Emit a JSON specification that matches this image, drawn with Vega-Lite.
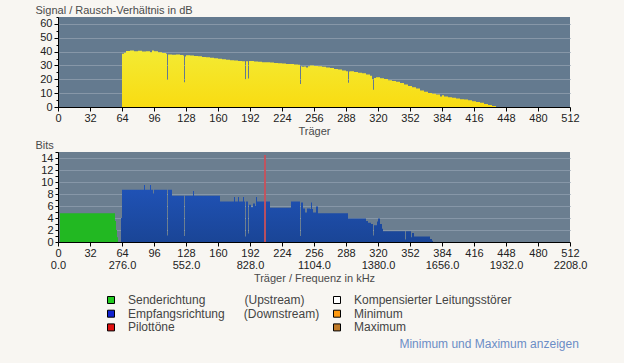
{
  "$schema": "https://vega.github.io/schema/vega-lite/v6.json",
  "background": "#F8F6F2",
  "padding": {"left": 35, "top": 4, "right": 40, "bottom": 16},
  "config": {
    "font": "Liberation Sans",
    "view": {"stroke": null},
    "axis": {
      "labelFont": "Liberation Sans", "labelFontSize": 11, "labelColor": "#222222",
      "titleFont": "Liberation Sans", "titleFontSize": 11, "titleFontWeight": "normal", "titleColor": "#4a4a4a",
      "domainColor": "#000000", "tickColor": "#000000", "gridColor": "#8797A8", "gridWidth": 1,
      "labelOverlap": false, "labelFlush": false
    }
  },
  "title": {"text": "Minimum und Maximum anzeigen", "orient": "bottom", "anchor": "end", "color": "#6B8DC6", "fontSize": 12, "font": "Liberation Sans", "fontWeight": "normal", "offset": 5, "dx": -8},
  "datasets": {
    "snr": [
      {"t":64,"snr":38.5},{"t":66,"snr":39.2},{"t":68,"snr":40.5},{"t":72,"snr":40.8},{"t":76,"snr":40.3},{"t":80,"snr":40.6},{"t":84,"snr":40.0},{"t":88,"snr":40.2},{"t":92,"snr":39.6},{"t":94,"snr":40.8},{"t":96,"snr":40.2},{"t":100,"snr":39.5},{"t":104,"snr":39.0},{"t":108,"snr":38.4},{"t":109,"snr":19.5},{"t":110,"snr":38.0},{"t":114,"snr":37.8},{"t":118,"snr":37.9},{"t":122,"snr":37.6},{"t":125,"snr":37.2},{"t":126,"snr":17.8},{"t":127,"snr":36.5},{"t":128,"snr":37.4},{"t":132,"snr":37.2},{"t":136,"snr":36.9},{"t":140,"snr":36.6},{"t":144,"snr":36.2},{"t":148,"snr":35.9},{"t":152,"snr":35.6},{"t":156,"snr":35.2},{"t":160,"snr":34.9},{"t":164,"snr":34.5},{"t":168,"snr":34.2},{"t":172,"snr":33.8},{"t":176,"snr":33.6},{"t":180,"snr":33.3},{"t":184,"snr":33.1},{"t":187,"snr":20.0},{"t":188,"snr":33.0},{"t":190,"snr":20.5},{"t":191,"snr":33.2},{"t":196,"snr":32.8},{"t":200,"snr":32.6},{"t":204,"snr":32.4},{"t":208,"snr":32.3},{"t":212,"snr":32.1},{"t":216,"snr":31.8},{"t":220,"snr":31.6},{"t":224,"snr":31.4},{"t":228,"snr":31.1},{"t":232,"snr":31.0},{"t":236,"snr":30.7},{"t":240,"snr":30.6},{"t":242,"snr":16.6},{"t":243,"snr":29.5},{"t":244,"snr":29.0},{"t":246,"snr":29.2},{"t":248,"snr":28.5},{"t":250,"snr":29.5},{"t":252,"snr":30.0},{"t":256,"snr":29.6},{"t":260,"snr":29.4},{"t":264,"snr":29.0},{"t":268,"snr":28.6},{"t":272,"snr":28.2},{"t":276,"snr":27.5},{"t":280,"snr":27.0},{"t":284,"snr":26.4},{"t":288,"snr":25.8},{"t":290,"snr":17.5},{"t":291,"snr":25.6},{"t":292,"snr":25.8},{"t":296,"snr":25.3},{"t":300,"snr":24.8},{"t":304,"snr":24.3},{"t":308,"snr":23.5},{"t":312,"snr":22.6},{"t":314,"snr":20.0},{"t":315,"snr":12.5},{"t":316,"snr":21.0},{"t":318,"snr":21.5},{"t":322,"snr":20.8},{"t":326,"snr":20.2},{"t":330,"snr":19.4},{"t":334,"snr":18.8},{"t":338,"snr":18.2},{"t":342,"snr":17.4},{"t":346,"snr":16.3},{"t":350,"snr":15.2},{"t":354,"snr":14.2},{"t":358,"snr":13.4},{"t":362,"snr":12.0},{"t":366,"snr":11.0},{"t":370,"snr":10.2},{"t":374,"snr":9.6},{"t":378,"snr":9.0},{"t":382,"snr":7.6},{"t":384,"snr":8.4},{"t":386,"snr":7.5},{"t":390,"snr":7.0},{"t":394,"snr":6.6},{"t":398,"snr":6.2},{"t":402,"snr":5.6},{"t":406,"snr":5.4},{"t":410,"snr":4.8},{"t":414,"snr":4.2},{"t":418,"snr":3.6},{"t":422,"snr":3.0},{"t":426,"snr":2.2},{"t":430,"snr":1.5},{"t":434,"snr":0.8},{"t":438,"snr":0}
    ],
    "up": [
      {"t":2,"bits":4.8},{"t":57,"bits":3.5},{"t":58,"bits":2.0},{"t":59,"bits":0.8},{"t":60,"bits":0}
    ],
    "down": [
      {"t":63,"bits":4.0},{"t":64,"bits":8.7},{"t":86,"bits":9.5},{"t":87,"bits":8.7},{"t":92,"bits":9.5},{"t":93,"bits":8.7},{"t":95,"bits":8.1},{"t":96,"bits":8.7},{"t":109,"bits":1.1},{"t":110,"bits":8.7},{"t":114,"bits":7.7},{"t":126,"bits":1.0},{"t":127,"bits":7.7},{"t":135,"bits":8.5},{"t":136,"bits":7.7},{"t":162,"bits":6.75},{"t":176,"bits":7.5},{"t":177,"bits":6.75},{"t":180,"bits":7.5},{"t":181,"bits":6.75},{"t":185,"bits":7.5},{"t":186,"bits":6.75},{"t":187,"bits":0.9},{"t":188,"bits":6.75},{"t":190,"bits":1.4},{"t":191,"bits":6.2},{"t":193,"bits":5.8},{"t":195,"bits":6.4},{"t":197,"bits":6.0},{"t":198,"bits":7.5},{"t":199,"bits":6.75},{"t":212,"bits":5.7},{"t":233,"bits":6.75},{"t":242,"bits":1.0},{"t":243,"bits":6.6},{"t":245,"bits":5.6},{"t":247,"bits":4.9},{"t":249,"bits":5.6},{"t":252,"bits":5.5},{"t":253,"bits":6.6},{"t":254,"bits":5.5},{"t":255,"bits":4.9},{"t":258,"bits":5.9},{"t":260,"bits":4.8},{"t":290,"bits":3.9},{"t":308,"bits":3.5},{"t":310,"bits":3.2},{"t":313,"bits":3.0},{"t":315,"bits":1.1},{"t":316,"bits":2.8},{"t":319,"bits":3.4},{"t":320,"bits":3.9},{"t":322,"bits":3.0},{"t":324,"bits":2.2},{"t":325,"bits":1.8},{"t":347,"bits":0.4},{"t":348,"bits":1.8},{"t":353,"bits":0.8},{"t":354,"bits":1.5},{"t":356,"bits":0.93},{"t":372,"bits":0.5},{"t":374,"bits":0.2},{"t":375,"bits":0}
    ],
    "pilot": [{"t":207,"bits":14.5}],
    "legend": [
      {"name":"Senderichtung"},{"name":"Empfangsrichtung"},{"name":"Pilottöne"},{"name":"Kompensierter Leitungsstörer"},{"name":"Minimum"},{"name":"Maximum"}
    ]
  },
  "spacing": 45,
  "bounds": "flush",
  "vconcat": [
    {
      "width": 512, "height": 90,
      "view": {"fill": "#647A8F", "stroke": null},
      "data": {"name": "snr"},
      "mark": {"type": "area", "interpolate": "step-after",
        "color": {"gradient": "linear", "x1": 0, "y1": 0, "x2": 0, "y2": 1, "stops": [{"offset": 0, "color": "#F3EA33"}, {"offset": 1, "color": "#F9DC12"}]}},
      "encoding": {
        "x": {"field": "t", "type": "quantitative", "scale": {"domain": [0, 512], "nice": false},
          "axis": {"values": [0,32,64,96,128,160,192,224,256,288,320,352,384,416,448,480,512], "title": "Träger", "grid": false, "tickSize": 4, "labelPadding": 1, "titlePadding": 2}},
        "y": {"field": "snr", "type": "quantitative", "scale": {"domain": [0, 65], "nice": false},
          "axis": {"values": [0,5,10,15,20,25,30,35,40,45,50,55,60,65],
            "labelExpr": "datum.value % 10 == 0 ? datum.label : ''",
            "title": "Signal / Rausch-Verhältnis in dB", "titleAngle": 0, "titleAlign": "left", "titleBaseline": "alphabetic", "titleX": -23, "titleY": -4,
            "grid": true, "gridOpacity": {"condition": {"test": "datum.value % 10 == 0 && datum.value > 0", "value": 1}, "value": 0},
            "tickSize": {"condition": {"test": "datum.value % 10 == 0", "value": 4}, "value": 2}, "labelPadding": 2}}
      }
    },
    {
      "width": 512, "height": 90,
      "view": {"fill": "#6B7E90", "stroke": null},
      "encoding": {
        "x": {"field": "t", "type": "quantitative", "scale": {"domain": [0, 512], "nice": false},
          "axis": {"values": [0,32,64,96,128,160,192,224,256,288,320,352,384,416,448,480,512], "title": "Träger / Frequenz in kHz", "grid": false, "tickSize": 4, "labelPadding": 1, "titlePadding": 2, "labelLineHeight": 12,
            "labelExpr": "datum.value % 64 == 0 ? [datum.label, format(datum.value * 4.3125, '.1f')] : [datum.label, '']"}},
        "y": {"type": "quantitative", "scale": {"domain": [0, 15], "nice": false},
          "axis": {"values": [0,1,2,3,4,5,6,7,8,9,10,11,12,13,14,15],
            "labelExpr": "datum.value % 2 == 0 ? datum.label : ''",
            "title": "Bits", "titleAngle": 0, "titleAlign": "left", "titleBaseline": "alphabetic", "titleX": -23, "titleY": -4,
            "grid": true, "gridOpacity": {"condition": {"test": "datum.value % 2 == 0 && datum.value > 0", "value": 1}, "value": 0},
            "tickSize": 3, "labelPadding": 2}}
      },
      "layer": [
        {"data": {"name": "up"}, "mark": {"type": "area", "interpolate": "step-after", "color": "#22B822"},
         "encoding": {"y": {"field": "bits", "type": "quantitative"}}},
        {"data": {"name": "down"}, "mark": {"type": "area", "interpolate": "step-after",
           "color": {"gradient": "linear", "x1": 0, "y1": 0, "x2": 0, "y2": 1, "stops": [{"offset": 0, "color": "#2053B8"}, {"offset": 1, "color": "#1A4596"}]}},
         "encoding": {"y": {"field": "bits", "type": "quantitative"}}},
        {"data": {"name": "pilot"}, "mark": {"type": "rule", "color": "#C9505A", "strokeWidth": 2, "opacity": 0.9},
         "encoding": {"y": {"field": "bits", "type": "quantitative"}, "y2": {"datum": 0}}},
        {"data": {"name": "legend"}, "mark": {"type": "square", "opacity": 0},
         "encoding": {
           "x": {"datum": 0}, "y": {"datum": 0},
           "fill": {"field": "name", "type": "nominal",
             "scale": {"domain": ["Senderichtung","Empfangsrichtung","Pilottöne","Kompensierter Leitungsstörer","Minimum","Maximum"],
                       "range": ["#22CC22","#1022D0","#E01010","#FFFFFF","#FF9A10","#C07A28"]},
             "legend": {"orient": "none", "legendX": 47, "legendY": 277, "columns": 2, "title": null, "padding": 0,
               "symbolType": "square", "symbolSize": 49, "symbolStrokeColor": "#000000", "symbolStrokeWidth": 1, "symbolOpacity": 1,
               "labelFont": "Liberation Sans", "labelFontSize": 12, "labelColor": "#444444", "labelOffset": 11, "labelLimit": 400,
               "columnPadding": 11, "rowPadding": 1.7,
               "labelExpr": "datum.label == 'Senderichtung' ? 'Senderichtung\u00a0\u00a0\u00a0\u00a0\u00a0\u00a0\u00a0\u00a0\u00a0\u00a0\u00a0\u2009(Upstream)' : datum.label == 'Empfangsrichtung' ? 'Empfangsrichtung\u00a0\u00a0\u00a0\u00a0\u00a0\u2009(Downstream)' : datum.label"}}
         }}
      ]
    }
  ]
}
